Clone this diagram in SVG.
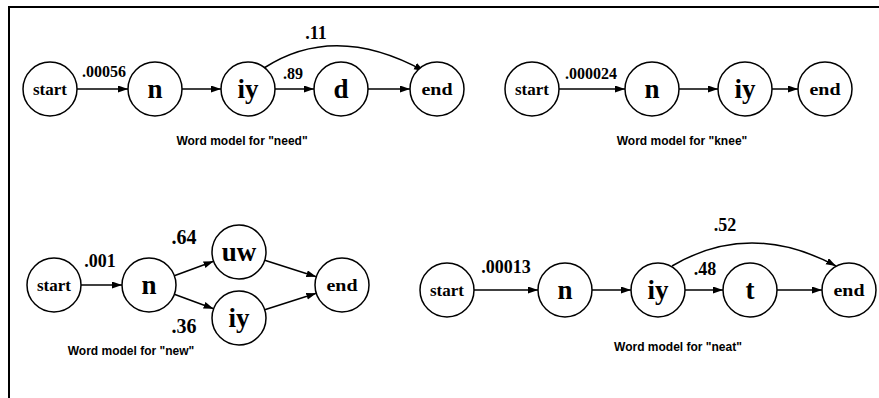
<svg xmlns="http://www.w3.org/2000/svg" width="879" height="398" viewBox="0 0 879 398">
<style>
.nd{fill:#fff;stroke:#000;stroke-width:1.5}
.big{font-family:"Liberation Serif",serif;font-weight:bold;font-size:27px;text-anchor:middle;fill:#000}
.sm{font-family:"Liberation Serif",serif;font-weight:bold;font-size:17px;text-anchor:middle;fill:#000}
.lb{font-family:"Liberation Serif",serif;font-weight:bold;font-size:16px;text-anchor:middle;fill:#000}
.lb2{font-family:"Liberation Serif",serif;font-weight:bold;font-size:18px;text-anchor:middle;fill:#000}
.lb3{font-family:"Liberation Serif",serif;font-weight:bold;font-size:20px;text-anchor:middle;fill:#000}
.cap{font-family:"Liberation Sans",Arial,sans-serif;font-weight:bold;font-size:12px;text-anchor:middle;fill:#000}
.e{fill:none;stroke:#000;stroke-width:1.5;marker-end:url(#ah)}
.fr{stroke:#000;stroke-width:2;fill:none}
</style>
<defs>
<marker id="ah" markerUnits="userSpaceOnUse" markerWidth="11" markerHeight="8" refX="10" refY="3.5" orient="auto">
<path d="M0,0 L10,3.5 L0,7 z" fill="#000"/>
</marker>
</defs>
<rect width="879" height="398" fill="#fff"/>
<g id="frame">
<path class="fr" d="M9,398 L9,7 L879,7"/>
</g>
<g id="connectors">
<path class="e" d="M77,89 L128,89"/>
<path class="e" d="M182,89 L221,89"/>
<path class="e" d="M275,89 L314,89"/>
<path class="e" d="M368,89 L410,89"/>
<path class="e" d="M264,68 Q335,22 424,71"/>
<path class="e" d="M559,89 L625,89"/>
<path class="e" d="M679,89 L718,89"/>
<path class="e" d="M772,89 L798,89"/>
<path class="e" d="M81,285 L122,285"/>
<path class="e" d="M174.3,275.7 L213.6,261.3"/>
<path class="e" d="M174.3,294.3 L213.6,308.7"/>
<path class="e" d="M264.7,260.2 L316.3,276.8"/>
<path class="e" d="M264.7,309.8 L316.3,293.2"/>
<path class="e" d="M474,290 L538,290"/>
<path class="e" d="M592,290 L631,290"/>
<path class="e" d="M685,290 L723,290"/>
<path class="e" d="M777,290 L822,290"/>
<path class="e" d="M672,266 Q750,220 836,266"/>
</g>
<g id="labels">
<text class="lb" x="104" y="77">.00056</text>
<text class="lb2" x="316" y="39">.11</text>
<text class="lb" x="293" y="79">.89</text>
<text class="lb" x="591" y="79">.000024</text>
<text class="lb2" x="100" y="267">.001</text>
<text class="lb3" x="184" y="244">.64</text>
<text class="lb3" x="184" y="333">.36</text>
<text class="lb2" x="506" y="273">.00013</text>
<text class="lb2" x="725" y="231">.52</text>
<text class="lb2" x="705" y="275">.48</text>
</g>
<g id="need-start"><circle class="nd" cx="50" cy="89" r="27"/><text class="sm" x="50" y="95">start</text></g>
<g id="need-n"><circle class="nd" cx="155" cy="89" r="27"/><text class="big" x="155" y="98">n</text></g>
<g id="need-iy"><circle class="nd" cx="248" cy="89" r="27"/><text class="big" x="248" y="98">iy</text></g>
<g id="need-d"><circle class="nd" cx="341" cy="89" r="27"/><text class="big" x="341" y="98">d</text></g>
<g id="need-end"><circle class="nd" cx="437" cy="89" r="27"/><text class="sm" x="437" y="95" textLength="31" lengthAdjust="spacingAndGlyphs">end</text></g>
<g id="need-caption"><text class="cap" x="242" y="145">Word model for "need"</text></g>
<g id="knee-start"><circle class="nd" cx="532" cy="89" r="27"/><text class="sm" x="532" y="95">start</text></g>
<g id="knee-n"><circle class="nd" cx="652" cy="89" r="27"/><text class="big" x="652" y="98">n</text></g>
<g id="knee-iy"><circle class="nd" cx="745" cy="89" r="27"/><text class="big" x="745" y="98">iy</text></g>
<g id="knee-end"><circle class="nd" cx="825" cy="89" r="27"/><text class="sm" x="825" y="95" textLength="31" lengthAdjust="spacingAndGlyphs">end</text></g>
<g id="knee-caption"><text class="cap" x="682" y="145">Word model for "knee"</text></g>
<g id="new-start"><circle class="nd" cx="54" cy="285" r="27"/><text class="sm" x="54" y="291">start</text></g>
<g id="new-n"><circle class="nd" cx="149" cy="285" r="27"/><text class="big" x="149" y="294">n</text></g>
<g id="new-uw"><circle class="nd" cx="239" cy="252" r="27"/><text class="big" x="239" y="261">uw</text></g>
<g id="new-iy"><circle class="nd" cx="239" cy="318" r="27"/><text class="big" x="239" y="327">iy</text></g>
<g id="new-end"><circle class="nd" cx="342" cy="285" r="27"/><text class="sm" x="342" y="291" textLength="31" lengthAdjust="spacingAndGlyphs">end</text></g>
<g id="new-caption"><text class="cap" x="131" y="355">Word model for "new"</text></g>
<g id="neat-start"><circle class="nd" cx="447" cy="290" r="27"/><text class="sm" x="447" y="296">start</text></g>
<g id="neat-n"><circle class="nd" cx="565" cy="290" r="27"/><text class="big" x="565" y="299">n</text></g>
<g id="neat-iy"><circle class="nd" cx="658" cy="290" r="27"/><text class="big" x="658" y="299">iy</text></g>
<g id="neat-t"><circle class="nd" cx="750" cy="290" r="27"/><text class="big" x="750" y="299">t</text></g>
<g id="neat-end"><circle class="nd" cx="849" cy="290" r="27"/><text class="sm" x="849" y="296" textLength="31" lengthAdjust="spacingAndGlyphs">end</text></g>
<g id="neat-caption"><text class="cap" x="678" y="351">Word model for "neat"</text></g>
</svg>
